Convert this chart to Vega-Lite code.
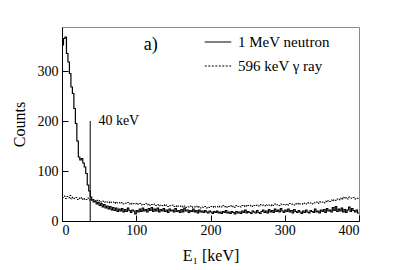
{
"$schema": "https://vega.github.io/schema/vega-lite/v6.json",
"width": 297, "height": 194,
"autosize": "none",
"padding": {"left": 62, "top": 27, "right": 40, "bottom": 49},
"background": "white",
"config": {
  "view": {"stroke": "#8a8a8a", "strokeWidth": 1},
  "font": "Liberation Serif",
  "legend": {"labelFont": "Liberation Serif"},
  "text": {"font": "Liberation Serif"},
  "axis": {"grid": false, "domainColor": "black", "tickColor": "black", "labelColor": "black", "titleColor": "black",
    "labelFont": "Liberation Serif", "labelFontSize": 14, "titleFont": "Liberation Serif", "titleFontSize": 16, "titleFontWeight": "normal"}
},
"datasets": {
"spec": [
{"e":0,"n":352,"g":47},{"e":2,"n":365,"g":50},{"e":4,"n":368,"g":45},{"e":6,"n":335,"g":49},{"e":8,"n":318,"g":46},{"e":10,"n":295,"g":51},{"e":12,"n":268,"g":44},{"e":14,"n":255,"g":48},{"e":16,"n":225,"g":45},{"e":18,"n":195,"g":47},
{"e":20,"n":160,"g":43},{"e":22,"n":128,"g":46},{"e":24,"n":122,"g":44},{"e":26,"n":125,"g":47},{"e":28,"n":116,"g":42},{"e":30,"n":108,"g":45},{"e":32,"n":95,"g":43},{"e":34,"n":72,"g":46},{"e":36,"n":60,"g":42},{"e":38,"n":48,"g":44},
{"e":40,"n":42,"g":41},{"e":42,"n":38,"g":43},{"e":44,"n":40,"g":40},{"e":46,"n":34,"g":42},{"e":48,"n":37,"g":39},{"e":50,"n":31,"g":41},{"e":52,"n":35,"g":38},{"e":54,"n":28,"g":40},{"e":56,"n":33,"g":37},{"e":58,"n":26,"g":39},
{"e":60,"n":30,"g":38},{"e":62,"n":24,"g":36},{"e":64,"n":29,"g":39},{"e":66,"n":22,"g":37},{"e":68,"n":27,"g":38},{"e":70,"n":21,"g":35},{"e":72,"n":26,"g":38},{"e":74,"n":19,"g":36},{"e":76,"n":24,"g":37},{"e":78,"n":20,"g":35},
{"e":80,"n":25,"g":37},{"e":82,"n":18,"g":34},{"e":84,"n":23,"g":36},{"e":86,"n":19,"g":35},{"e":88,"n":26,"g":37},{"e":90,"n":21,"g":34},{"e":92,"n":17,"g":36},{"e":94,"n":22,"g":33},{"e":96,"n":20,"g":35},{"e":98,"n":14,"g":34},
{"e":100,"n":21,"g":36},{"e":102,"n":18,"g":33},{"e":104,"n":24,"g":35},{"e":106,"n":19,"g":32},{"e":108,"n":26,"g":34},{"e":110,"n":20,"g":33},{"e":112,"n":23,"g":35},{"e":114,"n":18,"g":32},{"e":116,"n":25,"g":34},{"e":118,"n":21,"g":31},
{"e":120,"n":27,"g":33},{"e":122,"n":19,"g":32},{"e":124,"n":24,"g":34},{"e":126,"n":20,"g":31},{"e":128,"n":26,"g":33},{"e":130,"n":18,"g":30},{"e":132,"n":23,"g":32},{"e":134,"n":20,"g":31},{"e":136,"n":25,"g":33},{"e":138,"n":19,"g":30},
{"e":140,"n":22,"g":32},{"e":142,"n":17,"g":29},{"e":144,"n":24,"g":31},{"e":146,"n":20,"g":30},{"e":148,"n":22,"g":32},{"e":150,"n":18,"g":29},{"e":152,"n":25,"g":31},{"e":154,"n":19,"g":28},{"e":156,"n":21,"g":30},{"e":158,"n":17,"g":29},
{"e":160,"n":23,"g":31},{"e":162,"n":18,"g":28},{"e":164,"n":26,"g":30},{"e":166,"n":20,"g":27},{"e":168,"n":22,"g":29},{"e":170,"n":17,"g":28},{"e":172,"n":21,"g":30},{"e":174,"n":19,"g":27},{"e":176,"n":24,"g":29},{"e":178,"n":18,"g":28},
{"e":180,"n":21,"g":30},{"e":182,"n":16,"g":27},{"e":184,"n":22,"g":29},{"e":186,"n":18,"g":26},{"e":188,"n":20,"g":28},{"e":190,"n":17,"g":27},{"e":192,"n":21,"g":29},{"e":194,"n":18,"g":26},{"e":196,"n":16,"g":28},{"e":198,"n":20,"g":27},
{"e":200,"n":18,"g":29},{"e":202,"n":15,"g":27},{"e":204,"n":19,"g":30},{"e":206,"n":17,"g":28},{"e":208,"n":20,"g":29},{"e":210,"n":16,"g":27},{"e":212,"n":18,"g":30},{"e":214,"n":15,"g":28},{"e":216,"n":19,"g":31},{"e":218,"n":17,"g":28},
{"e":220,"n":21,"g":30},{"e":222,"n":16,"g":27},{"e":224,"n":18,"g":29},{"e":226,"n":15,"g":31},{"e":228,"n":19,"g":28},{"e":230,"n":17,"g":30},{"e":232,"n":14,"g":27},{"e":234,"n":19,"g":31},{"e":236,"n":16,"g":29},{"e":238,"n":18,"g":30},
{"e":240,"n":15,"g":28},{"e":242,"n":20,"g":31},{"e":244,"n":17,"g":29},{"e":246,"n":22,"g":32},{"e":248,"n":16,"g":29},{"e":250,"n":19,"g":31},{"e":252,"n":17,"g":30},{"e":254,"n":15,"g":32},{"e":256,"n":20,"g":29},{"e":258,"n":18,"g":31},
{"e":260,"n":16,"g":30},{"e":262,"n":21,"g":32},{"e":264,"n":17,"g":30},{"e":266,"n":15,"g":33},{"e":268,"n":19,"g":31},{"e":270,"n":22,"g":32},{"e":272,"n":17,"g":30},{"e":274,"n":20,"g":33},{"e":276,"n":16,"g":31},{"e":278,"n":23,"g":32},
{"e":280,"n":18,"g":30},{"e":282,"n":21,"g":33},{"e":284,"n":17,"g":31},{"e":286,"n":24,"g":34},{"e":288,"n":19,"g":32},{"e":290,"n":22,"g":33},{"e":292,"n":18,"g":31},{"e":294,"n":25,"g":34},{"e":296,"n":20,"g":32},{"e":298,"n":17,"g":33},
{"e":300,"n":22,"g":32},{"e":302,"n":19,"g":34},{"e":304,"n":24,"g":32},{"e":306,"n":18,"g":35},{"e":308,"n":21,"g":33},{"e":310,"n":16,"g":34},{"e":312,"n":23,"g":32},{"e":314,"n":19,"g":35},{"e":316,"n":17,"g":33},{"e":318,"n":21,"g":36},
{"e":320,"n":18,"g":34},{"e":322,"n":15,"g":35},{"e":324,"n":20,"g":33},{"e":326,"n":17,"g":36},{"e":328,"n":22,"g":34},{"e":330,"n":18,"g":37},{"e":332,"n":16,"g":35},{"e":334,"n":21,"g":36},{"e":336,"n":19,"g":34},{"e":338,"n":17,"g":37},
{"e":340,"n":24,"g":36},{"e":342,"n":18,"g":38},{"e":344,"n":20,"g":35},{"e":346,"n":16,"g":39},{"e":348,"n":22,"g":37},{"e":350,"n":19,"g":38},{"e":352,"n":23,"g":36},{"e":354,"n":17,"g":40},{"e":356,"n":25,"g":38},{"e":358,"n":20,"g":41},
{"e":360,"n":22,"g":39},{"e":362,"n":18,"g":42},{"e":364,"n":27,"g":40},{"e":366,"n":21,"g":43},{"e":368,"n":29,"g":41},{"e":370,"n":19,"g":44},{"e":372,"n":24,"g":42},{"e":374,"n":20,"g":46},{"e":376,"n":26,"g":43},{"e":378,"n":18,"g":48},
{"e":380,"n":23,"g":45},{"e":382,"n":17,"g":47},{"e":384,"n":22,"g":44},{"e":386,"n":28,"g":48},{"e":388,"n":19,"g":46},{"e":390,"n":25,"g":45},{"e":392,"n":21,"g":47},{"e":394,"n":18,"g":44},{"e":396,"n":22,"g":46},{"e":398,"n":16,"g":45},{"e":400,"n":16,"g":45}
]
},
"layer": [
{
  "data": {"name": "spec"},
  "transform": [{"fold": ["n", "g"], "as": ["series", "counts"]}],
  "mark": {"type": "line", "interpolate": "step-after", "color": "black", "clip": true},
  "encoding": {
    "x": {"field": "e", "type": "quantitative", "scale": {"domain": [0, 400], "nice": false},
      "axis": {"title": "E₁ [keV]", "values": [0,50,100,150,200,250,300,350,400],
        "labelExpr": "datum.value % 100 == 0 ? datum.label : ''",
        "tickSize": {"condition": {"test": "datum.value % 100 == 0", "value": -6}, "value": -3},
        "labelPadding": 8, "titlePadding": 10}},
    "y": {"field": "counts", "type": "quantitative", "scale": {"domain": [0, 388], "nice": false},
      "axis": {"title": "Counts", "values": [0,50,100,150,200,250,300,350],
        "labelExpr": "datum.value % 100 == 0 ? datum.label : ''",
        "tickSize": {"condition": {"test": "datum.value % 100 == 0", "value": -6}, "value": -3},
        "labelPadding": 10, "titlePadding": 10}},
    "strokeDash": {"field": "series", "type": "nominal",
      "scale": {"domain": ["n", "g"], "range": [[1, 0], [2, 1.5]]},
      "legend": {"title": null, "orient": "none", "legendX": 142, "legendY": 1,
        "labelExpr": "datum.value == 'n' ? '1 MeV neutron' : '596 keV γ ray'",
        "labelFont": "Liberation Serif", "labelFontSize": 15, "labelColor": "black",
        "symbolType": "stroke", "symbolSize": 700, "symbolStrokeColor": "black", "symbolStrokeWidth": 1.3,
        "rowPadding": 2, "labelOffset": 6}},
    "strokeWidth": {"field": "series", "type": "nominal",
      "scale": {"domain": ["n", "g"], "range": [1.2, 1]}, "legend": null}
  }
},
{
  "data": {"values": [{"x": 38, "y": 0, "y2": 200}]},
  "mark": {"type": "rule", "color": "black", "strokeWidth": 1},
  "encoding": {"x": {"field": "x", "type": "quantitative"}, "y": {"field": "y", "type": "quantitative"}, "y2": {"field": "y2"}}
},
{
  "data": {"values": [{"x": 49, "y": 201, "t": "40 keV"}, {"x": 110, "y": 352, "t": "a)"}]},
  "mark": {"type": "text", "align": "left", "baseline": "middle", "font": "Liberation Serif", "color": "black"},
  "encoding": {"x": {"field": "x", "type": "quantitative"}, "y": {"field": "y", "type": "quantitative"},
    "text": {"field": "t"},
    "size": {"condition": {"test": "datum.t == 'a)'", "value": 18}, "value": 14}}
}
]
}
